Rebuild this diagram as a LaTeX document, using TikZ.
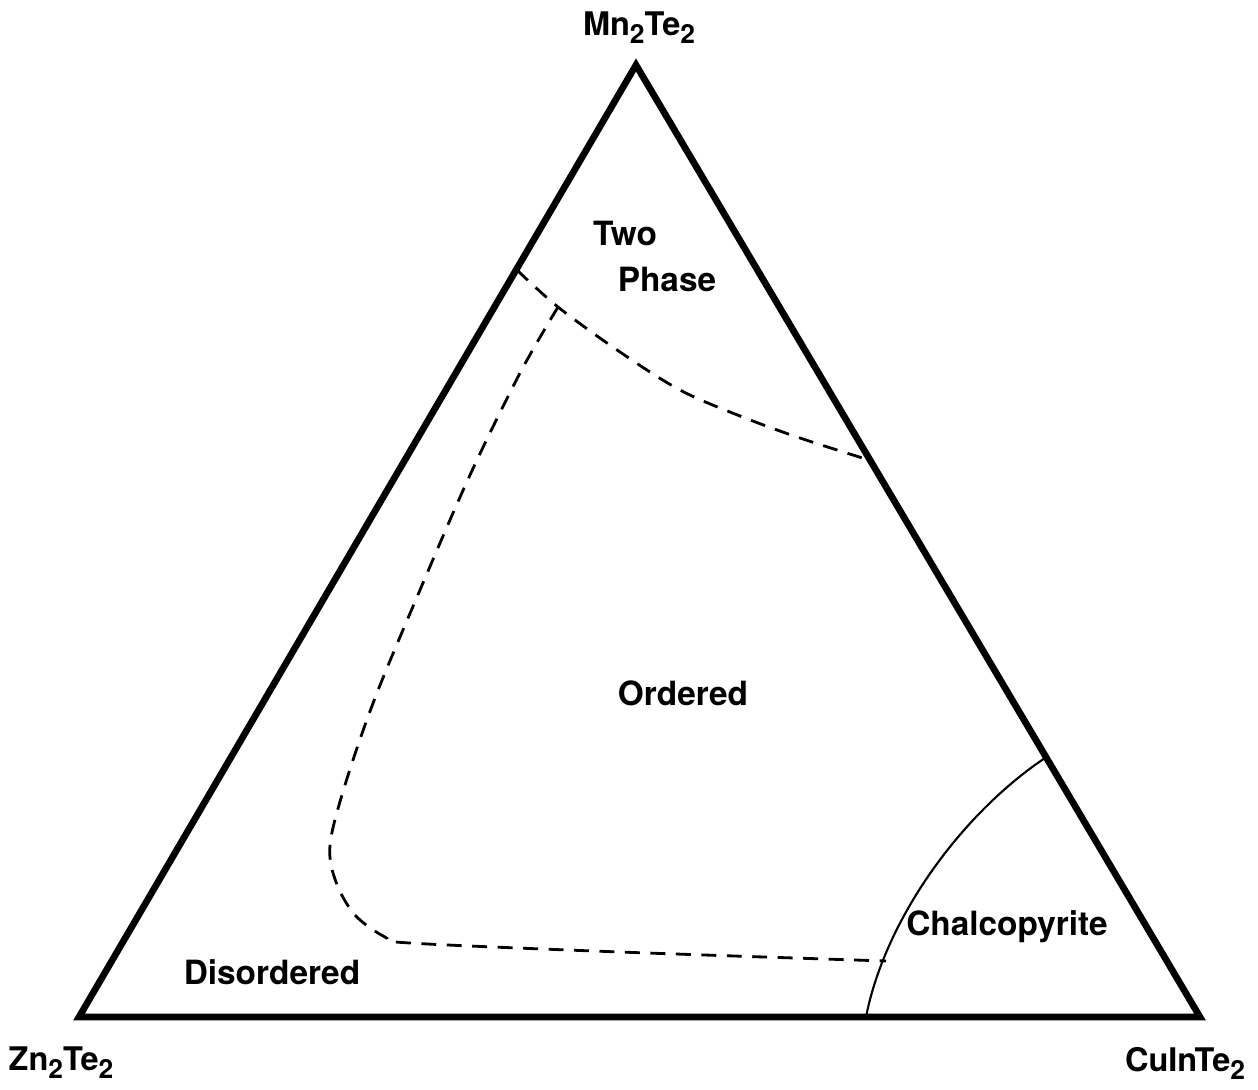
\documentclass[tikz,border=0pt]{standalone}
\usepackage{fontspec}
\setmainfont{TeX Gyre Heros}
\usepackage{tikz}
\usetikzlibrary{positioning}

\newcommand{\lowtwo}{\raisebox{-0.45ex}{\fontsize{15}{15}\selectfont 2}}

\tikzset{
  region/.style={font=\fontsize{19}{22}\selectfont\bfseries,inner sep=1pt},
  corner/.style={font=\fontsize{18.5}{21}\selectfont\bfseries,inner sep=1pt},
  boundary/.style={line width=1.6pt,dash pattern=on 8.5pt off 6pt},
}

\begin{document}
\begin{tikzpicture}[x=0.02cm,y=-0.02cm]
\useasboundingbox (0,0) rectangle (1258,1089);
% corners of the ternary triangle
\coordinate (Mn) at (636,65);
\coordinate (Zn) at (79,1017);
\coordinate (Cu) at (1200,1017);
\draw[line width=3.8pt,line join=miter] (Mn) -- (Cu) -- (Zn) -- cycle;
\node[corner] (mnlab) at (639,28) {Mn\lowtwo Te\lowtwo};
\node[corner] (znlab) at (61,1063) {Zn\lowtwo Te\lowtwo};
\node[corner] (culab) at (1185,1063) {CuInTe\lowtwo};
% phase boundaries
\coordinate (twoL) at (517,270);
\coordinate (twoR) at (869,460);
\coordinate (knee) at (558,307);
\coordinate (chalL) at (886,961);
\coordinate (chalT) at (1045,758);
\coordinate (chalB) at (866,1017);
\draw[boundary] plot[smooth,tension=0.55] coordinates {(twoL) (knee) (620,352) (680,390) (740,416) (800,438) (twoR)};
\draw[boundary] plot[smooth,tension=0.55] coordinates {(knee) (520,373) (470,475) (420,590) (375,698) (345,785) (330,845) (336,882) (355,915) (385,937) (410,943) (620,952) (chalL)};
\draw[line width=1.2pt] (chalT) .. controls (960,815) and (885,920) .. (chalB);
% region labels
\node[region] (two) at (625,233) {Two};
\node[region] (phase) at (667,279) {Phase};
\node[region] (ordered) at (683,693) {Ordered};
\node[region] (chalco) at (1007,927) {Chalcopyrite};
\node[region] (disordered) at (272,972) {Disordered};
\end{tikzpicture}
\end{document}
